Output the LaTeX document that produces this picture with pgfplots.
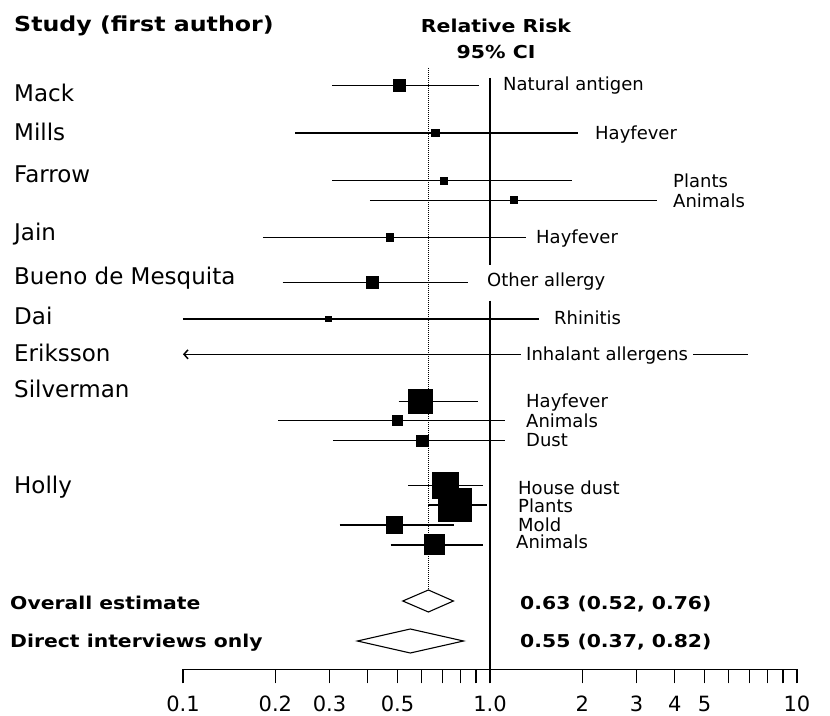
\documentclass[border=0pt]{standalone}
\usepackage{fontspec}
\setmainfont{DejaVu Sans}
\newfontfamily\widebold{DejaVu Sans}[FakeStretch=1.15]
\usepackage{pgfplots}
\usepackage{pgfplotstable}
\pgfplotsset{compat=1.18}
\usetikzlibrary{arrows.meta}

% Study estimates: relative risk, row position (from top) and box half-side
\pgfplotstableread{
est   py     h
0.508 85.7   6.2
0.665 133.0  3.6
0.710 180.7  3.6
1.200 200.3  3.6
0.473 237.5  3.6
0.415 282.5  5.8
0.298 319.0  2.8
0.595 401.2  12.0
0.501 420.3  5.0
0.603 440.7  5.6
0.718 485.7  13.0
0.770 505.0  16.5
0.489 525.0  8.2
0.660 545.0  10.0
}\studies

\newcommand{\rowlabel}[3]{\node[anchor=base west,inner sep=0pt,font=\fontsize{18}{22}\selectfont] at (#1,{715-#2}) {#3};}
\newcommand{\study}[2]{\node[anchor=base west,inner sep=0pt,font=\fontsize{23}{27}\selectfont] at (14,{715-#1}) {#2};}
\newcommand{\bfnode}[4]{\node[anchor=#1,inner sep=0pt,font=\widebold\bfseries\fontsize{#2}{#2}\selectfont] at #3 {#4};}

\begin{document}
\begin{tikzpicture}[x=1pt,y=1pt]
\path[use as bounding box] (0,0) rectangle (830,715);
\begin{axis}[
  at={(183pt,45.7pt)}, anchor=south west,
  scale only axis, width=614pt, height=669.3pt,
  xmode=log, xmin=0.1, xmax=10, ymin=-669.3, ymax=0,
  clip=false,
  axis x line*=bottom, axis y line=none, ytick=\empty,
  axis line style={line width=1.1pt},
  xtick={0.1,0.2,0.3,0.4,0.5,0.6,0.7,0.8,0.9,1,2,3,4,5,6,7,8,9,10},
  xticklabels={0.1,0.2,0.3,{},0.5,{},{},{},{},1.0,2,3,4,5,{},{},{},{},10},
  xminorticks=false,
  tick align=outside, major tick length=14pt,
  tick style={black, line width=1.1pt},
  xticklabel style={font=\fontsize{21}{25}\selectfont, inner sep=0pt,
    anchor=base, text depth=0pt, yshift=-28pt},
]
% reference lines: overall estimate (dotted) and no effect
\addplot[black, densely dotted, line width=1pt] coordinates {(0.63,-68) (0.63,-590)};
\addplot[black, line width=1.3pt] coordinates {(1,-78) (1,-265)};
\addplot[black, line width=1.3pt] coordinates {(1,-300.7) (1,-669.3)};

% confidence intervals
\addplot[black, line width=1.5pt, unbounded coords=jump] coordinates {
 (0.306,-85.7) (0.92,-85.7) (1,nan)
 (0.232,-133.0) (1.94,-133.0) (1,nan)
 (0.306,-180.7) (1.85,-180.7) (1,nan)
 (0.406,-200.3) (3.51,-200.3) (1,nan)
 (0.182,-237.5) (1.31,-237.5) (1,nan)
 (0.211,-282.5) (0.85,-282.5) (1,nan)
 (0.100,-319.0) (1.44,-319.0) (1,nan)
 (0.504,-401.7) (0.914,-401.7) (1,nan)
 (0.204,-420.3) (1.12,-420.3) (1,nan)
 (0.308,-440.7) (1.12,-440.7) (1,nan)
 (0.542,-485.7) (0.951,-485.7) (1,nan)
 (0.627,-505.0) (0.978,-505.0) (1,nan)
 (0.324,-525.0) (0.761,-525.0) (1,nan)
 (0.475,-545.0) (0.951,-545.0)
};
% interval running below the axis range
\addplot[black, line width=1.5pt, {Straight Barb[length=4pt,width=9pt]}-] coordinates {(0.1,-354.3) (6.9,-354.3)};

% study estimates, box size by weight
\addplot[scatter, only marks, mark=square*,
  point meta=\thisrow{h},
  scatter/use mapped color={draw=black, fill=black},
  visualization depends on={\thisrow{h} \as \halfside},
  scatter/@pre marker code/.append style={/tikz/mark size=\halfside},
  mark options={line width=0pt}]
  table[x=est, y expr=-\thisrow{py}] {\studies};

% pooled estimates
\addplot[black, fill=white, line width=1.1pt] coordinates {(0.52,-601) (0.63,-590) (0.76,-601) (0.63,-612)} -- cycle;
\addplot[black, fill=white, line width=1.1pt] coordinates {(0.37,-641) (0.55,-629) (0.82,-641) (0.55,-653)} -- cycle;
\end{axis}

% headings
\bfnode{base west}{20.6}{(14,{715-31.7})}{Study (first author)}
\bfnode{base}{17.8}{(496,{715-33})}{Relative Risk}
\bfnode{base}{17.8}{(496,{715-59})}{95\% CI}

% study names
\study{101.7}{Mack}
\study{141}{Mills}
\study{183}{Farrow}
\study{241}{Jain}
\study{285}{Bueno de Mesquita}
\study{325}{Dai}
\study{362}{Eriksson}
\study{398}{Silverman}
\study{494}{Holly}

% exposure labels
\rowlabel{503}{90.5}{Natural antigen}
\rowlabel{595}{140}{Hayfever}
\rowlabel{673}{188}{Plants}
\rowlabel{673}{207.5}{Animals}
\rowlabel{536}{244}{Hayfever}
\rowlabel{487}{286.5}{Other allergy}
\rowlabel{554}{325}{Rhinitis}
\node[anchor=base west,fill=white,inner xsep=5pt,inner ysep=3pt,font=\fontsize{18}{22}\selectfont] at (521,{715-361}) {Inhalant allergens};
\rowlabel{526}{408}{Hayfever}
\rowlabel{526}{428}{Animals}
\rowlabel{526}{446.5}{Dust}
\rowlabel{518}{494.5}{House dust}
\rowlabel{518}{513}{Plants}
\rowlabel{518}{531.5}{Mold}
\rowlabel{516}{548.5}{Animals}

% pooled rows
\bfnode{base west}{17.7}{(10,{715-610})}{Overall estimate}
\bfnode{base west}{17.7}{(10,{715-648})}{Direct interviews only}
\bfnode{base west}{17.7}{(520,{715-610})}{0.63 (0.52, 0.76)}
\bfnode{base west}{17.7}{(520,{715-648})}{0.55 (0.37, 0.82)}
\end{tikzpicture}
\end{document}
